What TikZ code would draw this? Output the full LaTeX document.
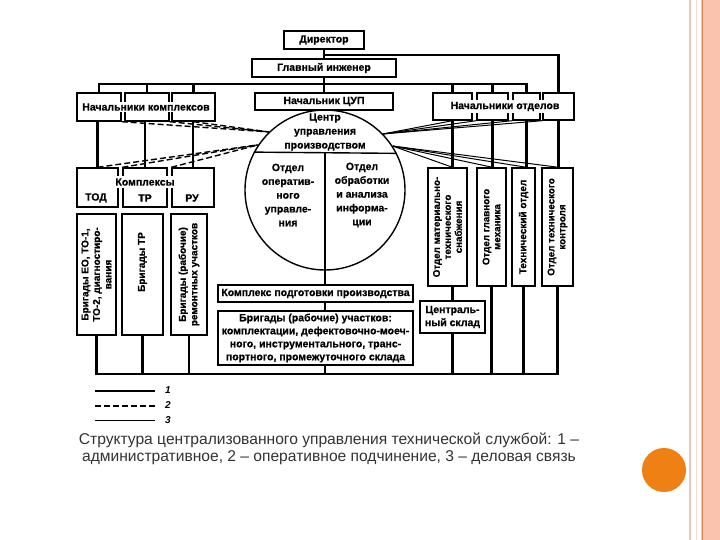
\documentclass[tikz,border=0pt]{standalone}
\usepackage{fontspec}
\setmainfont{Liberation Sans}
\newfontfamily\dfont[BoldFont={Liberation Sans Bold}, BoldFeatures={FakeBold=0.6}]{Liberation Sans}
\definecolor{stripe}{RGB}{248,196,174}
\definecolor{stripeline}{RGB}{232,135,79}
\definecolor{stripepale}{RGB}{236,200,184}
\definecolor{dotor}{RGB}{238,128,20}
\begin{document}
\begin{tikzpicture}[x=1pt,y=-1pt,
  box/.style={draw, line width=1.4pt, inner sep=0pt, rectangle},
  txt/.style={font=\dfont\bfseries\fontsize{10.5}{13}\selectfont, align=center, inner sep=0pt},
  vtxt/.style={font=\dfont\bfseries\fontsize{10}{11.5}\selectfont, align=center, inner sep=0pt, rotate=90},
  wtxt/.style={txt, fill=white, inner xsep=1pt, inner ysep=1.5pt},
  adm/.style={line width=2.1pt},
  opr/.style={line width=1.4pt, dash pattern=on 6pt off 3pt},
  biz/.style={line width=1pt}]
\useasboundingbox (0,0) rectangle (720,540);
\fill[white] (0,0) rectangle (720,540);
% right decoration
\fill[stripe] (701,0) rectangle (720,540);
\draw[stripeline, line width=1pt] (702,0) -- (702,540);
\draw[stripepale, line width=2pt] (690,0) -- (690,540);
\draw[stripepale!60, line width=1pt] (696,0) -- (696,540);
\fill[dotor] (664,470) circle (22);
% top nodes
\node[box, minimum width=80, minimum height=18] (dir) at (324,40) {};
\node[txt] (dirt) at (dir) {Директор};
\node[box, minimum width=144, minimum height=18] (gi) at (324,68) {};
\node[txt] (git) at (gi) {Главный инженер};
% Начальники комплексов
\node[box, minimum width=44, minimum height=28] (nk1) at (99,107) {};
\node[box, minimum width=44, minimum height=28] (nk2) at (147,107) {};
\node[box, minimum width=43, minimum height=28] (nk3) at (193.5,107) {};
\node[wtxt] (nkt) at (146,107) {Начальники комплексов};
% Начальник ЦУП
\node[box, minimum width=138, minimum height=17] (ncup) at (324,101.5) {};
\node[txt] (ncupt) at (ncup) {Начальник ЦУП};
% Начальники отделов
\node[box, minimum width=39, minimum height=27] (no1) at (452.5,106.5) {};
\node[box, minimum width=31, minimum height=27] (no2) at (492.5,106.5) {};
\node[box, minimum width=27, minimum height=27] (no3) at (526.5,106.5) {};
\node[box, minimum width=31, minimum height=27] (no4) at (558.5,106.5) {};
\node[wtxt] (not) at (505,106.5) {Начальники отделов};
% Комплексы
\node[box, minimum width=41, minimum height=39] (k1) at (97.5,187.5) {};
\node[box, minimum width=44, minimum height=39] (k2) at (145,187.5) {};
\node[box, minimum width=42, minimum height=39] (k3) at (193,187.5) {};
\node[wtxt, inner ysep=2.5pt] (kt) at (145,182) {Комплексы};
\node[txt] (kt1) at (96,198) {ТОД};
\node[txt] (kt2) at (145,198) {ТР};
\node[txt] (kt3) at (192,198) {РУ};
% Бригады
\node[box, minimum width=39, minimum height=121] (b1) at (96.5,274.5) {};
\node[box, minimum width=41, minimum height=121] (b2) at (142.5,274.5) {};
\node[box, minimum width=36, minimum height=121] (b3) at (189,274.5) {};
\node[vtxt] (b1t) at (b1) {Бригады ЕО, ТО-1,\\ТО-2, диагностиро-\\вания};
\node[vtxt] (b2t) at (142.5,262) {Бригады ТР};
\node[vtxt] (b3t) at (b3) {Бригады (рабочие)\\ремонтных участков};
% circle
\node[circle, draw, line width=1.4pt, minimum size=160, inner sep=0pt] (cup) at (325,190) {};
\draw[line width=1.4pt] (cup.152.5) -- (cup.27.5);
\draw[line width=1.4pt] (cup.152.5 -| cup.center) -- (cup.south);
\node[txt, font=\dfont\bfseries\fontsize{10.5}{14}\selectfont] (cupt) at (325,132) {Центр\\управления\\производством};
\node[txt, font=\dfont\bfseries\fontsize{10.5}{13.8}\selectfont] (o1t) at (288,195) {Отдел\\оператив-\\ного\\управле-\\ния};
\node[txt, font=\dfont\bfseries\fontsize{10.5}{13.8}\selectfont] (o2t) at (362,195) {Отдел\\обработки\\и анализа\\информа-\\ции};
% Комплекс подготовки, бригады участков
\node[box, minimum width=195, minimum height=17] (kpp) at (315.5,293.5) {};
\node[txt] (kppt) at (kpp) {Комплекс подготовки производства};
\node[box, minimum width=195, minimum height=54] (bu) at (315.5,338) {};
\node[txt] (but) at (bu) {Бригады (рабочие) участков:\\комплектации, дефектовочно-моеч-\\ного, инструментального, транс-\\портного, промежуточного склада};
% отделы
\node[box, minimum width=39, minimum height=118] (d1) at (447.5,227) {};
\node[box, minimum width=29, minimum height=118] (d2) at (491.5,227) {};
\node[box, minimum width=23, minimum height=118] (d3) at (523.5,227) {};
\node[box, minimum width=31, minimum height=118] (d4) at (557.5,227) {};
\node[vtxt, font=\dfont\bfseries\fontsize{9.8}{11}\selectfont] (d1t) at (d1) {Отдел материально-\\технического\\снабжения};
\node[vtxt, font=\dfont\bfseries\fontsize{9.8}{11}\selectfont] (d2t) at (d2) {Отдел главного\\механика};
\node[vtxt] (d3t) at (d3) {Технический отдел};
\node[vtxt, font=\dfont\bfseries\fontsize{9.8}{11}\selectfont] (d4t) at (d4) {Отдел технического\\контроля};
\node[box, minimum width=65, minimum height=32] (skl) at (452.5,317) {};
\node[txt] (sklt) at (skl) {Централь-\\ный склад};
% administrative tree
\coordinate (bus) at (324,84);
\coordinate (dj) at (324,55);
\coordinate (bbus) at (324,374);
\draw[adm] (dir.south) -- (gi.north);
\draw[adm] (dj) -- (dj -| no4.north) -- (no4.north);
\draw[adm] (gi.south) -- (bus);
\draw[adm] (nk1.north) -- (nk1.north |- bus) -- (no3.north |- bus) -- (no3.north);
\draw[adm] (nk2.north) -- (nk2.north |- bus);
\draw[adm] (nk3.north) -- (nk3.north |- bus);
\draw[adm] (ncup.north) -- (ncup.north |- bus);
\draw[adm] (no1.north) -- (no1.north |- bus);
\draw[adm] (no2.north) -- (no2.north |- bus);
\draw[adm] (k1.north) -- (k1.north |- nk1.south);
\draw[adm] (k2.north) -- (k2.north |- nk2.south);
\draw[adm] (k3.north) -- (k3.north |- nk3.south);
\draw[adm] (no1.south) -- (no1.south |- d1.north);
\draw[adm] (no2.south) -- (no2.south |- d2.north);
\draw[adm] (no3.south) -- (no3.south |- d3.north);
\draw[adm] (no4.south) -- (no4.south |- d4.north);
\draw[adm] (cup.south) -- (cup.south |- kpp.north);
\draw[adm] (cup.south |- kpp.south) -- (cup.south |- bu.north);
\draw[adm] (skl.north) -- (skl.north |- d1.south);
% bottom bus
\draw[adm] (b1.south) -- (b1.south |- bbus) -- (d4.south |- bbus) -- (d4.south);
\draw[adm] (b2.south) -- (b2.south |- bbus);
\draw[adm] (b3.south) -- (b3.south |- bbus);
\draw[adm] (cup.south |- bu.south) -- (cup.south |- bbus);
\draw[adm] (skl.south) -- (skl.south |- bbus);
\draw[adm] (d2.south) -- (d2.south |- bbus);
\draw[adm] (d3.south) -- (d3.south |- bbus);
% operative (dashed)
\draw[opr] (nk1.south east) -- (cup.134);
\draw[opr] (nk2.south east) -- (cup.134);
\draw[opr] (nk3.south) -- (cup.134);
\draw[opr] (k1.north) -- (cup.146);
\draw[opr] (k2.north west) -- (cup.146);
\draw[opr] (k3.north west) -- (cup.146);
% business links
\draw[biz] (cup.44) -- (no1.south);
\draw[biz] (cup.44) -- (no2.south west);
\draw[biz] (cup.44) -- (no3.south west);
\draw[biz] (cup.44) -- (no4.south west);
\draw[biz] (cup.33) -- (no1.south |- d1.north);
\draw[biz] (cup.33) -- (no2.south |- d2.north);
\draw[biz] (cup.33) -- (no3.south |- d3.north);
\draw[biz] (cup.33) -- (no4.south |- d4.north);
% legend
\coordinate (l1a) at (95,391); \coordinate (l1b) at (155,391);
\coordinate (l2a) at (95,406); \coordinate (l2b) at (155,406);
\coordinate (l3a) at (95,420); \coordinate (l3b) at (155,420);
\draw[adm] (l1a) -- (l1b);
\draw[opr] (l2a) -- (l2b);
\draw[biz] (l3a) -- (l3b);
\node[font=\dfont\bfseries\itshape\fontsize{10}{11}\selectfont, inner sep=0pt] (lg1) at (168,390) {1};
\node[font=\dfont\bfseries\itshape\fontsize{10}{11}\selectfont, inner sep=0pt] (lg2) at (168,405) {2};
\node[font=\dfont\bfseries\itshape\fontsize{10}{11}\selectfont, inner sep=0pt] (lg3) at (168,420) {3};
% caption
\node[font=\fontsize{15.6}{17}\selectfont, text=black!80, align=center, inner sep=0pt] (cap) at (329,449)
  {Структура централизованного управления технической службой: 1 –\\административное, 2 – оперативное подчинение, 3 – деловая связь};
\end{tikzpicture}
\end{document}
